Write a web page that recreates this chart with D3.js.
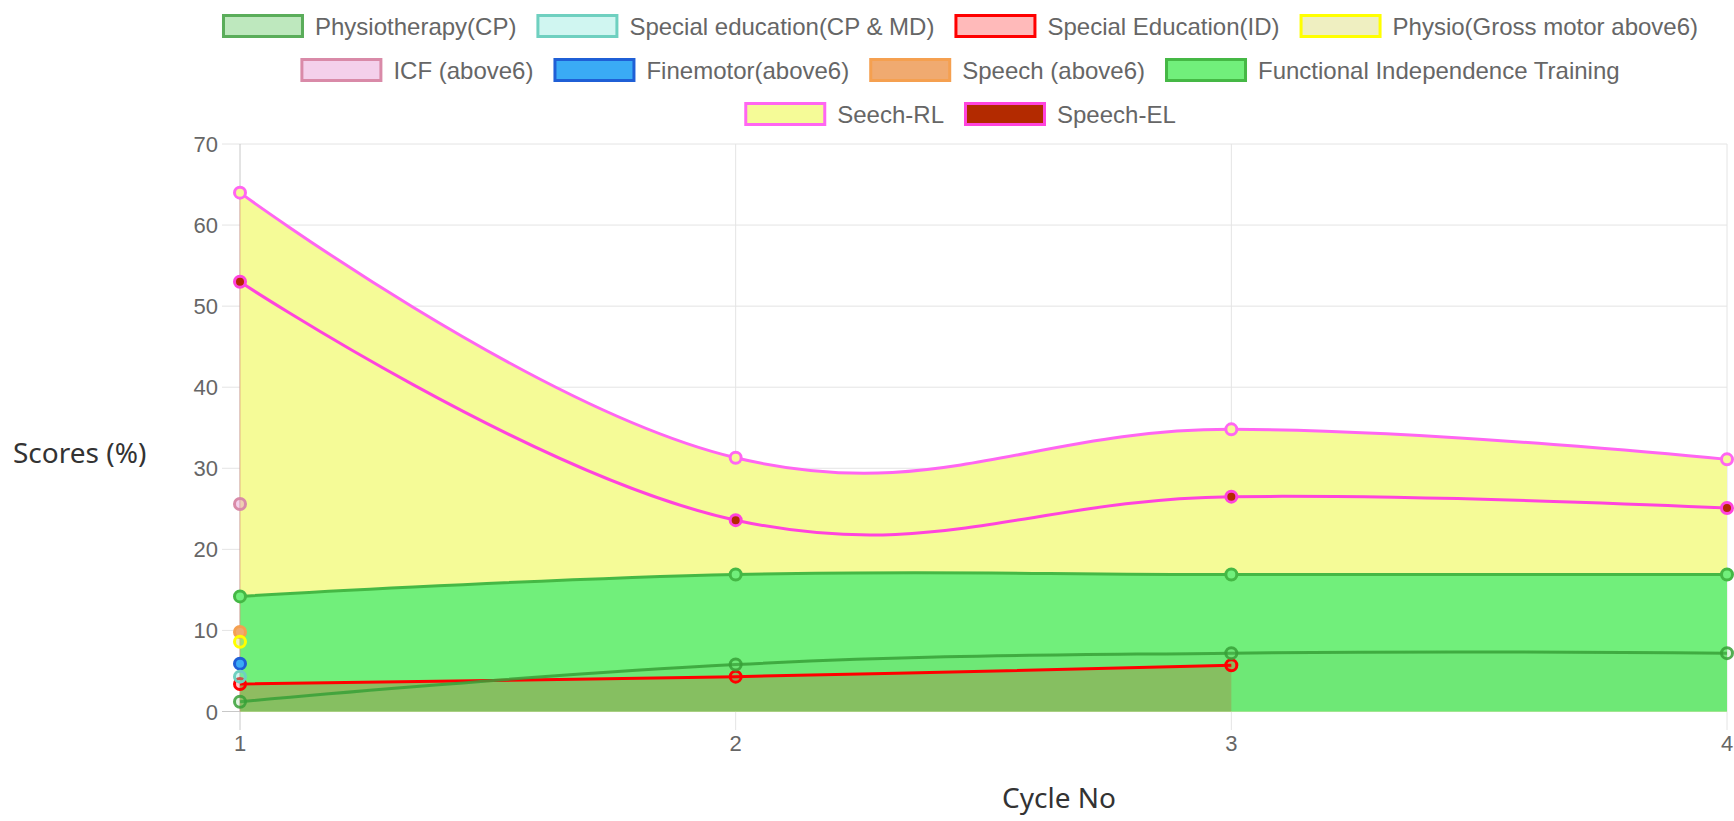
<!DOCTYPE html>
<html>
<head>
<meta charset="utf-8">
<script src="https://cdn.jsdelivr.net/npm/d3@7"></script>
<style>
  html, body { margin: 0; padding: 0; background: #fff; }
  svg { display: block; }
</style>
</head>
<body>
<script>
// cycles on the x axis
const cycles = [1, 2, 3, 4];
const yTicks = [0, 10, 20, 30, 40, 50, 60, 70];

const seriesNames = [
  "Physiotherapy(CP)", "Special education(CP & MD)", "Special Education(ID)",
  "Physio(Gross motor above6)", "ICF (above6)", "Finemotor(above6)",
  "Speech (above6)", "Functional Independence Training", "Seech-RL", "Speech-EL"
];

// scores per cycle
const physioCP = [1.2, 5.8, 7.2, 7.2];
const specialEduCPMD = [4.3];
const specialEduID = [3.4, 4.3, 5.7];
const physioGross = [8.6];
const icfAbove6 = [25.6];
const finemotor = [5.9];
const speechAbove6 = [9.8];
const functionalTraining = [14.2, 16.9, 16.9, 16.9];
const seechRL = [64, 31.3, 34.8, 31.1];
const speechEL = [53, 23.6, 26.5, 25.1];

const seriesValues = [physioCP, specialEduCPMD, specialEduID, physioGross, icfAbove6,
  finemotor, speechAbove6, functionalTraining, seechRL, speechEL];

// look of each series (same order as seriesNames)
const looks = [
  { line: "rgba(55,160,55,0.85)", bg: "rgba(100,205,100,0.2)", legendBg: "rgba(70,190,70,0.35)", legendLine: "#5aad5a", fill: true },
  { line: "#6fd0c0", bg: "rgba(120,230,215,0.35)", fill: false },
  { line: "#ff0000", bg: "rgba(255,0,0,0.21)", legendBg: "rgba(255,0,0,0.27)", fill: true },
  { line: "#ffff00", bg: "rgba(215,215,100,0.4)", fill: false },
  { line: "#d98aa8", bg: "rgba(230,150,210,0.45)", fill: false },
  { line: "#1f5fd6", bg: "#3aabf5", fill: false },
  { line: "#f5a050", bg: "#f0aa70", fill: false },
  { line: "#45b845", bg: "#71ef7b", fill: true },
  { line: "#ff66f2", bg: "#f5fb97", fill: true },
  { line: "#ff44dd", bg: "#b32a00", fill: false }
];

const W = 1734, H = 821;
const svg = d3.select("body").append("svg")
  .attr("width", W)
  .attr("height", H);

const x = d3.scaleLinear().domain([1, 4]).range([240, 1727]);
const y = d3.scaleLinear().domain([0, 70]).range([711.5, 144]);

// grid
const grid = svg.append("g");
grid.selectAll()
  .data(yTicks)
  .enter()
    .append("line")
      .attr("x1", 222).attr("x2", 1727)
      .attr("y1", d => y(d)).attr("y2", d => y(d))
      .attr("stroke", d => d == 0 ? "#c8c8c8" : "#e4e4e4")
      .attr("stroke-width", 1);
grid.selectAll()
  .data(cycles)
  .enter()
    .append("line")
      .attr("x1", d => x(d)).attr("x2", d => x(d))
      .attr("y1", y(70)).attr("y2", 730)
      .attr("stroke", d => d == 1 ? "#c8c8c8" : "#e4e4e4")
      .attr("stroke-width", 1);

// tick labels
svg.selectAll()
  .data(yTicks)
  .enter()
    .append("text")
      .attr("x", 218)
      .attr("y", d => y(d) + 8)
      .attr("text-anchor", "end")
      .attr("font-family", "Liberation Sans, Arial, sans-serif")
      .attr("font-size", "22px")
      .attr("fill", "#666")
      .text(d => d);
svg.selectAll()
  .data(cycles)
  .enter()
    .append("text")
      .attr("x", d => x(d))
      .attr("y", 751)
      .attr("text-anchor", "middle")
      .attr("font-family", "Liberation Sans, Arial, sans-serif")
      .attr("font-size", "22px")
      .attr("fill", "#666")
      .text(d => d);

// axis titles
svg.append("text")
  .attr("x", 13).attr("y", 463)
  .attr("font-family", "Noto Sans, Open Sans, sans-serif")
  .attr("font-size", "28px")
  .attr("fill", "#333")
  .text("Scores (%)");
svg.append("text")
  .attr("x", 1059).attr("y", 808)
  .attr("text-anchor", "middle")
  .attr("font-family", "Noto Sans, Open Sans, sans-serif")
  .attr("font-size", "28px")
  .attr("fill", "#333")
  .text("Cycle No");

const series = seriesNames.map((name, i) => ({
  name: name,
  look: looks[i],
  points: seriesValues[i].map((v, j) => ({ c: cycles[j], v: v }))
}));

const curve = d3.curveCardinal.tension(-0.2);
const area = d3.area().x(d => x(d.c)).y0(y(0)).y1(d => y(d.v)).curve(curve);
const line = d3.line().x(d => x(d.c)).y(d => y(d.v)).curve(curve);

const drawOrder = series.slice().reverse();

// fills first, later series underneath
svg.append("g").selectAll()
  .data(drawOrder.filter(s => s.look.fill && s.points.length > 1))
  .enter()
    .append("path")
      .attr("d", s => area(s.points))
      .attr("fill", s => s.look.bg);

// thin left edge of the filled band
svg.append("line")
  .attr("x1", x(1)).attr("x2", x(1))
  .attr("y1", y(seechRL[0])).attr("y2", y(0))
  .attr("stroke", "rgba(220,140,120,0.6)")
  .attr("stroke-width", 1);

svg.append("g").selectAll()
  .data(drawOrder.filter(s => s.points.length > 1))
  .enter()
    .append("path")
      .attr("d", s => line(s.points))
      .attr("fill", "none")
      .attr("stroke", s => s.look.line)
      .attr("stroke-width", 3);

const pts = svg.append("g");
drawOrder.forEach(s => {
  pts.selectAll()
    .data(s.points)
    .enter()
      .append("circle")
        .attr("cx", d => x(d.c))
        .attr("cy", d => y(d.v))
        .attr("r", 5.5)
        .attr("fill", s.look.bg)
        .attr("stroke", s.look.line)
        .attr("stroke-width", 3);
});

// legend, wrapped into centred rows
const boxW = 82, boxH = 24, gapText = 11, gapItem = 20, maxRow = 1500;
const legend = svg.append("g");
const measure = legend.append("text")
  .attr("font-family", "Liberation Sans, Arial, sans-serif")
  .attr("font-size", "24px");
const items = series.map(s => {
  measure.text(s.name);
  return { s: s, w: boxW + gapText + measure.node().getComputedTextLength() };
});
measure.remove();

let rows = [[]], rowW = [0];
items.forEach(it => {
  let r = rows.length - 1;
  let add = (rows[r].length ? gapItem : 0) + it.w;
  if (rows[r].length && rowW[r] + add > maxRow) {
    rows.push([]); rowW.push(0); r++;
    add = it.w;
  }
  rows[r].push(it);
  rowW[r] += add;
});

rows.forEach((row, r) => {
  let cx = 960 - rowW[r] / 2;
  const cy = 26 + r * 44;
  row.forEach(it => {
    legend.append("rect")
      .attr("x", cx + 1.5).attr("y", cy - boxH / 2 + 1.5)
      .attr("width", boxW - 3).attr("height", boxH - 3)
      .attr("fill", it.s.look.legendBg || it.s.look.bg)
      .attr("stroke", it.s.look.legendLine || it.s.look.line)
      .attr("stroke-width", 3);
    legend.append("text")
      .attr("x", cx + boxW + gapText)
      .attr("y", cy + 8.5)
      .attr("font-family", "Liberation Sans, Arial, sans-serif")
      .attr("font-size", "24px")
      .attr("fill", "#666")
      .text(it.s.name);
    cx += it.w + gapItem;
  });
});
</script>
</body>
</html>
